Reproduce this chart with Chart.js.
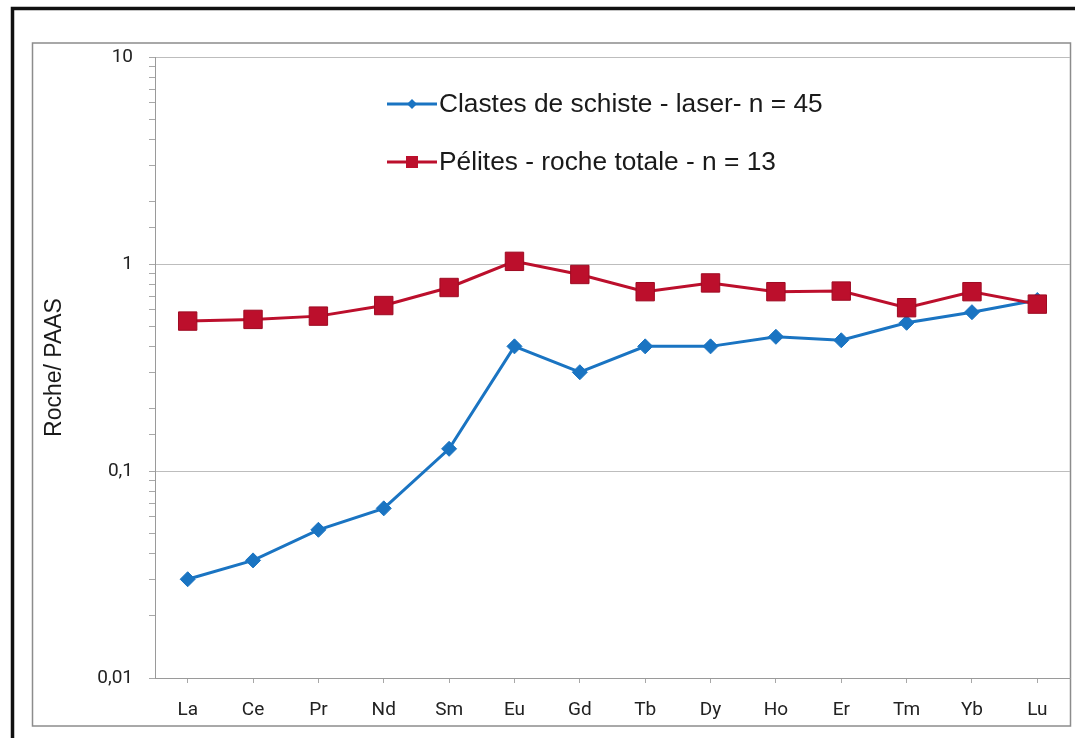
<!DOCTYPE html>
<html>
<head>
<meta charset="utf-8">
<script src="https://cdn.jsdelivr.net/npm/chart.js@4/dist/chart.umd.min.js"></script>
<style>
  html, body { margin: 0; padding: 0; background: #fff; overflow: hidden; }
  canvas { display: block; }
</style>
</head>
<body>
<canvas id="ree" width="1075" height="738"></canvas>
<script>
// REE spectra normalised to PAAS
const elements = ["La", "Ce", "Pr", "Nd", "Sm", "Eu", "Gd", "Tb", "Dy", "Ho", "Er", "Tm", "Yb", "Lu"];
const clastes = [0.030, 0.037, 0.052, 0.066, 0.128, 0.40, 0.30, 0.40, 0.40, 0.445, 0.428, 0.52, 0.585, 0.67];
const pelites = [0.53, 0.54, 0.56, 0.63, 0.77, 1.03, 0.89, 0.735, 0.81, 0.735, 0.74, 0.615, 0.735, 0.64];
const yTickValues = [0.01, 0.1, 1, 10];
const yTickLabels = ["0,01", "0,1", "1", "10"];

const BLUE = "#1a74c2";
const RED = "#bc0f2c";
const labelFont = "'Roboto', 'Liberation Sans', sans-serif";
const textFont = "'Liberation Sans', Arial, sans-serif";

function isDecade(v) {
  const l = Math.log10(v);
  return Math.abs(l - Math.round(l)) < 1e-6;
}

function tickLabel(v) {
  for (let i = 0; i < yTickValues.length; i++) {
    if (Math.abs(v - yTickValues[i]) / yTickValues[i] < 1e-6) return yTickLabels[i];
  }
  return "";
}

// white page, black outer frame and grey chart frame
const framePlugin = {
  id: "frames",
  beforeDraw(chart) {
    const ctx = chart.ctx;
    ctx.save();
    ctx.fillStyle = "#fff";
    ctx.fillRect(0, 0, chart.width, chart.height);
    ctx.strokeStyle = "#111";
    ctx.lineWidth = 3.5;
    ctx.strokeRect(12.5, 8.5, 1200, 900);
    ctx.strokeStyle = "#8c8c8c";
    ctx.lineWidth = 1.5;
    ctx.strokeRect(32.5, 43, 1038, 683);
    ctx.restore();
  }
};

// legend inside the plot area
const legendPlugin = {
  id: "insideLegend",
  afterDatasetsDraw(chart) {
    const ctx = chart.ctx;
    const rows = [
      { ds: chart.data.datasets[1], y: 104 },
      { ds: chart.data.datasets[0], y: 162 }
    ];
    ctx.save();
    rows.forEach(({ ds, y }) => {
      const x0 = 387, x1 = 437, xm = (x0 + x1) / 2;
      ctx.strokeStyle = ds.borderColor;
      ctx.lineWidth = 3;
      ctx.beginPath();
      ctx.moveTo(x0, y);
      ctx.lineTo(x1, y);
      ctx.stroke();
      ctx.fillStyle = ds.backgroundColor;
      ctx.beginPath();
      if (ds.pointStyle === "rectRot") {
        const r = 5;
        ctx.moveTo(xm, y - r);
        ctx.lineTo(xm + r, y);
        ctx.lineTo(xm, y + r);
        ctx.lineTo(xm - r, y);
        ctx.closePath();
      } else {
        ctx.rect(xm - 6, y - 6, 12, 12);
      }
      ctx.fill();
      ctx.fillStyle = "#1a1a1a";
      ctx.font = "26.3px " + textFont;
      ctx.textBaseline = "middle";
      ctx.textAlign = "left";
      ctx.fillText(ds.label, x1 + 2, y + 1);
    });
    ctx.restore();
  }
};

new Chart(document.getElementById("ree"), {
  type: "line",
  data: {
    labels: elements,
    datasets: [
      {
        label: "Pélites - roche totale - n = 13",
        data: pelites,
        borderColor: RED,
        backgroundColor: RED,
        borderWidth: 3,
        pointStyle: "rect",
        pointRadius: 13,
        pointBorderColor: "#9e0a22",
        pointBorderWidth: 1,
        tension: 0,
        order: 0
      },
      {
        label: "Clastes de schiste - laser- n = 45",
        data: clastes,
        borderColor: BLUE,
        backgroundColor: BLUE,
        borderWidth: 3,
        pointStyle: "rectRot",
        pointRadius: 7.5,
        pointBorderColor: BLUE,
        pointBorderWidth: 1,
        tension: 0,
        order: 1
      }
    ]
  },
  options: {
    responsive: false,
    animation: false,
    devicePixelRatio: 1,
    layout: { autoPadding: false, padding: { left: 0, top: 57, right: 5, bottom: 0 } },
    plugins: {
      legend: { display: false },
      tooltip: { enabled: false }
    },
    scales: {
      x: {
        type: "category",
        offset: true,
        afterFit: (scale) => {
          scale.height = 60;
          scale.paddingLeft = 0;
          scale.paddingRight = 0;
        },
        grid: {
          offset: false,
          drawOnChartArea: false,
          drawTicks: true,
          tickLength: 5,
          tickColor: "#a8a8a8"
        },
        border: { display: true, color: "#9a9a9a", width: 1 },
        ticks: {
          padding: 16,
          color: "#222",
          font: { family: labelFont, size: 19 },
          maxRotation: 0
        }
      },
      y: {
        type: "logarithmic",
        position: "left",
        min: 0.01,
        max: 10,
        afterFit: (scale) => { scale.width = 155; },
        grid: {
          color: (c) => (c.tick && isDecade(c.tick.value) ? "#bdbdbd" : "rgba(0,0,0,0)"),
          tickColor: "#a8a8a8",
          tickLength: 6,
          lineWidth: 1
        },
        border: { display: true, color: "#9a9a9a", width: 1 },
        ticks: {
          autoSkip: false,
          padding: 16,
          color: "#222",
          font: { family: labelFont, size: 19 },
          callback: (v) => tickLabel(v)
        },
        title: {
          display: true,
          text: "Roche/ PAAS",
          color: "#1a1a1a",
          font: { family: textFont, size: 23 },
          padding: { top: 41, bottom: 0 }
        }
      }
    }
  },
  plugins: [framePlugin, legendPlugin]
});
</script>
</body>
</html>
